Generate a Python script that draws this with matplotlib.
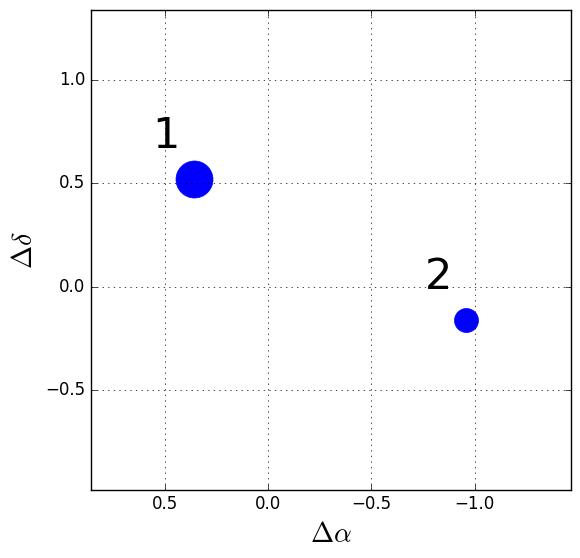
import matplotlib
matplotlib.use("Agg")
import matplotlib.pyplot as plt

plt.style.use('classic')
plt.rcParams['mathtext.fontset'] = 'cm'

labels = ['1', '2']
dra = [0.36, -0.957]
ddec = [0.52, -0.16]
msize = [37, 24]          # marker diameter in px
lab_x = [0.495, -0.824]
lab_y = [0.73, 0.048]

fig = plt.figure(figsize=(5.8, 5.58), dpi=100, facecolor='w')
ax = fig.add_axes([0.157, 0.122, 0.827, 0.86])

for i in range(len(labels)):
    ax.plot(dra[i], ddec[i], 'o', color='b', mec='b', ms=msize[i]*0.72)
    ax.text(lab_x[i], lab_y[i], labels[i], fontsize=31, ha='center', va='center')

ax.set_xlim(0.857, -1.464)
ax.set_ylim(-0.983, 1.338)
ax.set_xticks([0.5, 0.0, -0.5, -1.0])
ax.set_yticks([-0.5, 0.0, 0.5, 1.0])
ax.grid(True)
ax.set_xlabel(r'$\Delta\alpha$', fontsize=20)
ax.set_ylabel(r'$\Delta\delta$', fontsize=20)

fig.savefig('out.png', dpi=100, facecolor='w')
